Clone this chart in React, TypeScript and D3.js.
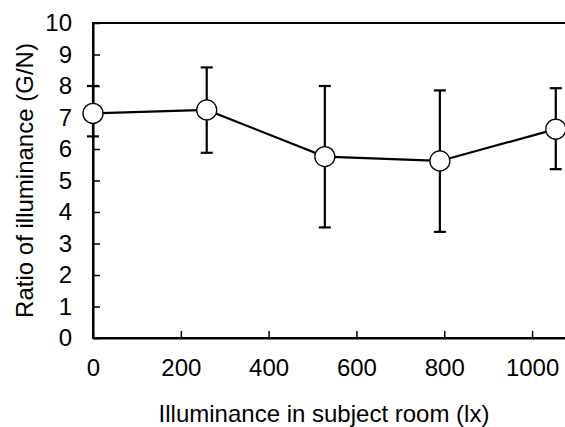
import { useRef, useEffect } from "react";
import { select, scaleLinear, axisBottom, axisLeft, line } from "d3";

// Data
const illuminance = [0, 259, 528, 790, 1054];
const ratio = [7.13, 7.24, 5.76, 5.62, 6.63];
const upper = [8.0, 8.59, 8.0, 7.86, 7.93];
const lower = [6.4, 5.88, 3.51, 3.37, 5.36];
const xTicks = [0, 200, 400, 600, 800, 1000];
const yTicks = [0, 1, 2, 3, 4, 5, 6, 7, 8, 9, 10];

const W = 565;
const H = 427;
const FONT = "Liberation Sans, Arial, sans-serif";
const FS = "24px";

export default function App() {
  const svgRef = useRef<SVGSVGElement | null>(null);

  useEffect(() => {
    const svg = select(svgRef.current);
    svg.selectAll("*").remove();

    // Scales
    const x = scaleLinear().domain([0, 1075]).range([93, 565]);
    const y = scaleLinear().domain([0, 10]).range([338, 23]);

    // Frame (right side runs off the page)
    svg
      .append("rect")
      .attr("x", x(0))
      .attr("y", y(10))
      .attr("width", x(1100) - x(0))
      .attr("height", y(0) - y(10))
      .attr("fill", "none")
      .attr("stroke", "#000")
      .attr("stroke-width", 2);

    // Axes with inward ticks
    const gx = svg
      .append("g")
      .attr("transform", `translate(0, ${y(0)})`)
      .call(
        axisBottom(x)
          .tickValues(xTicks)
          .tickFormat((d) => String(d))
          .tickSize(-7)
          .tickSizeOuter(0)
          .tickPadding(21)
      );
    const gy = svg
      .append("g")
      .attr("transform", `translate(${x(0)}, 0)`)
      .call(
        axisLeft(y)
          .tickValues(yTicks)
          .tickFormat((d) => String(d))
          .tickSize(-7)
          .tickSizeOuter(0)
          .tickPadding(21)
      );
    [gx, gy].forEach((g) => {
      g.select(".domain").attr("stroke", "#000").attr("stroke-width", 2);
      g.selectAll(".tick line").attr("stroke", "#000").attr("stroke-width", 1.5);
      g.selectAll(".tick text")
        .attr("fill", "#000")
        .style("font-family", FONT)
        .style("font-size", FS);
    });

    const pts = illuminance.map((d, i) => ({ x: d, y: ratio[i], hi: upper[i], lo: lower[i] }));

    // Error bars
    const eb = svg.append("g").attr("stroke", "#000").attr("stroke-width", 2.2);
    pts.forEach((p) => {
      eb.append("line")
        .attr("x1", x(p.x))
        .attr("x2", x(p.x))
        .attr("y1", y(p.lo))
        .attr("y2", y(p.hi));
      [p.lo, p.hi].forEach((v) =>
        eb
          .append("line")
          .attr("x1", x(p.x) - 6)
          .attr("x2", x(p.x) + 6)
          .attr("y1", y(v))
          .attr("y2", y(v))
      );
    });

    // Connecting line
    const path = line<{ x: number; y: number }>()
      .x((d) => x(d.x))
      .y((d) => y(d.y));
    svg
      .append("path")
      .datum(pts)
      .attr("d", path)
      .attr("fill", "none")
      .attr("stroke", "#000")
      .attr("stroke-width", 2.2);

    // Markers
    svg
      .selectAll(".pt")
      .data(pts)
      .join("circle")
      .attr("class", "pt")
      .attr("cx", (d) => x(d.x))
      .attr("cy", (d) => y(d.y))
      .attr("r", 10)
      .attr("fill", "#fff")
      .attr("stroke", "#000")
      .attr("stroke-width", 1.3);

    // Axis titles
    svg
      .append("text")
      .attr("x", 324)
      .attr("y", 422)
      .attr("text-anchor", "middle")
      .style("font-family", FONT)
      .style("font-size", FS)
      .text("Illuminance in subject room (lx)");
    svg
      .append("text")
      .attr("transform", `translate(33, ${(y(0) + y(10)) / 2}) rotate(-90)`)
      .attr("text-anchor", "middle")
      .style("font-family", FONT)
      .style("font-size", FS)
      .text("Ratio of illuminance (G/N)");
  }, []);

  return (
    <svg
      ref={svgRef}
      width={W}
      height={H}
      style={{ position: "absolute", left: 0, top: 0, background: "#fff" }}
    />
  );
}
